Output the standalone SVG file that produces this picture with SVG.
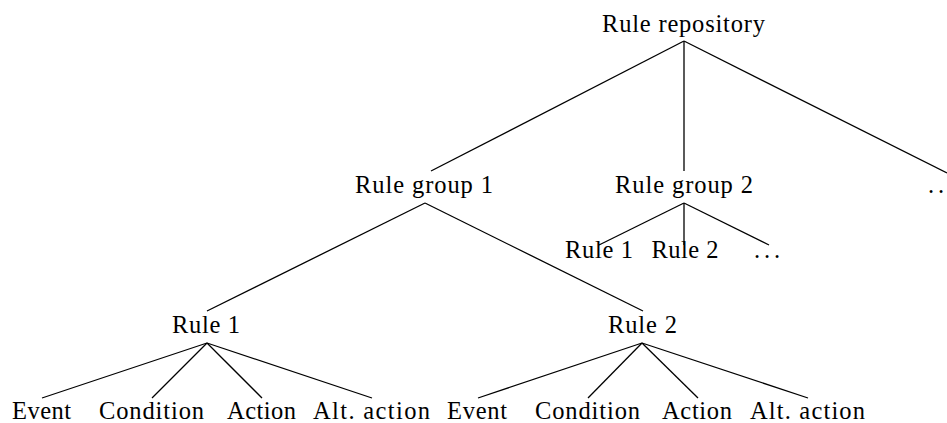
<svg xmlns="http://www.w3.org/2000/svg" width="947" height="423" viewBox="0 0 947 423">
<style>
text{font-size:24.5px;fill:#000;text-anchor:middle}
.dots{text-anchor:start;letter-spacing:3.9px}
#edges line{stroke:#000;stroke-width:1.3}
</style>
<rect width="947" height="423" fill="#fff"/>
<g id="edges">
<line x1="684" y1="41" x2="431" y2="171"/>
<line x1="684" y1="41" x2="684" y2="171"/>
<line x1="684" y1="41" x2="947" y2="173"/>
<line x1="425" y1="203" x2="207" y2="311"/>
<line x1="425" y1="203" x2="643" y2="311"/>
<line x1="684" y1="203" x2="599" y2="245"/>
<line x1="684" y1="203" x2="684" y2="245"/>
<line x1="684" y1="203" x2="769" y2="245"/>
<line x1="207" y1="343" x2="42" y2="398"/>
<line x1="207" y1="343" x2="152" y2="398"/>
<line x1="207" y1="343" x2="262" y2="398"/>
<line x1="207" y1="343" x2="372" y2="398"/>
<line x1="642" y1="343" x2="478" y2="398"/>
<line x1="642" y1="343" x2="588" y2="398"/>
<line x1="642" y1="343" x2="698" y2="398"/>
<line x1="642" y1="343" x2="808" y2="398"/>
</g>
<g font-family="'Liberation Serif', 'Times New Roman', serif">
<g id="root"><text x="683.5" y="32" textLength="163" lengthAdjust="spacing">Rule repository</text></g>
<g id="group1"><text x="424" y="193" textLength="138" lengthAdjust="spacing">Rule group 1</text></g>
<g id="group2"><text x="684" y="193" textLength="138" lengthAdjust="spacing">Rule group 2</text></g>
<g id="more-groups"><text class="dots" x="928" y="193">...</text></g>
<g id="g2-rule1"><text x="599" y="258" textLength="68" lengthAdjust="spacing">Rule 1</text></g>
<g id="g2-rule2"><text x="685" y="258" textLength="67" lengthAdjust="spacing">Rule 2</text></g>
<g id="g2-more"><text class="dots" x="754" y="258">...</text></g>
<g id="rule1"><text x="206" y="333" textLength="68" lengthAdjust="spacing">Rule 1</text></g>
<g id="rule2"><text x="642.5" y="333" textLength="69" lengthAdjust="spacing">Rule 2</text></g>
<g id="r1-event"><text x="41.5" y="419" textLength="59" lengthAdjust="spacing">Event</text></g>
<g id="r1-condition"><text x="151.5" y="419" textLength="105" lengthAdjust="spacing">Condition</text></g>
<g id="r1-action"><text x="261.5" y="419" textLength="69" lengthAdjust="spacing">Action</text></g>
<g id="r1-alt"><text x="371.5" y="419" textLength="117" lengthAdjust="spacing">Alt. action</text></g>
<g id="r2-event"><text x="477" y="419" textLength="60" lengthAdjust="spacing">Event</text></g>
<g id="r2-condition"><text x="587.5" y="419" textLength="105" lengthAdjust="spacing">Condition</text></g>
<g id="r2-action"><text x="697" y="419" textLength="70" lengthAdjust="spacing">Action</text></g>
<g id="r2-alt"><text x="807.5" y="419" textLength="115" lengthAdjust="spacing">Alt. action</text></g>
</g>
</svg>
